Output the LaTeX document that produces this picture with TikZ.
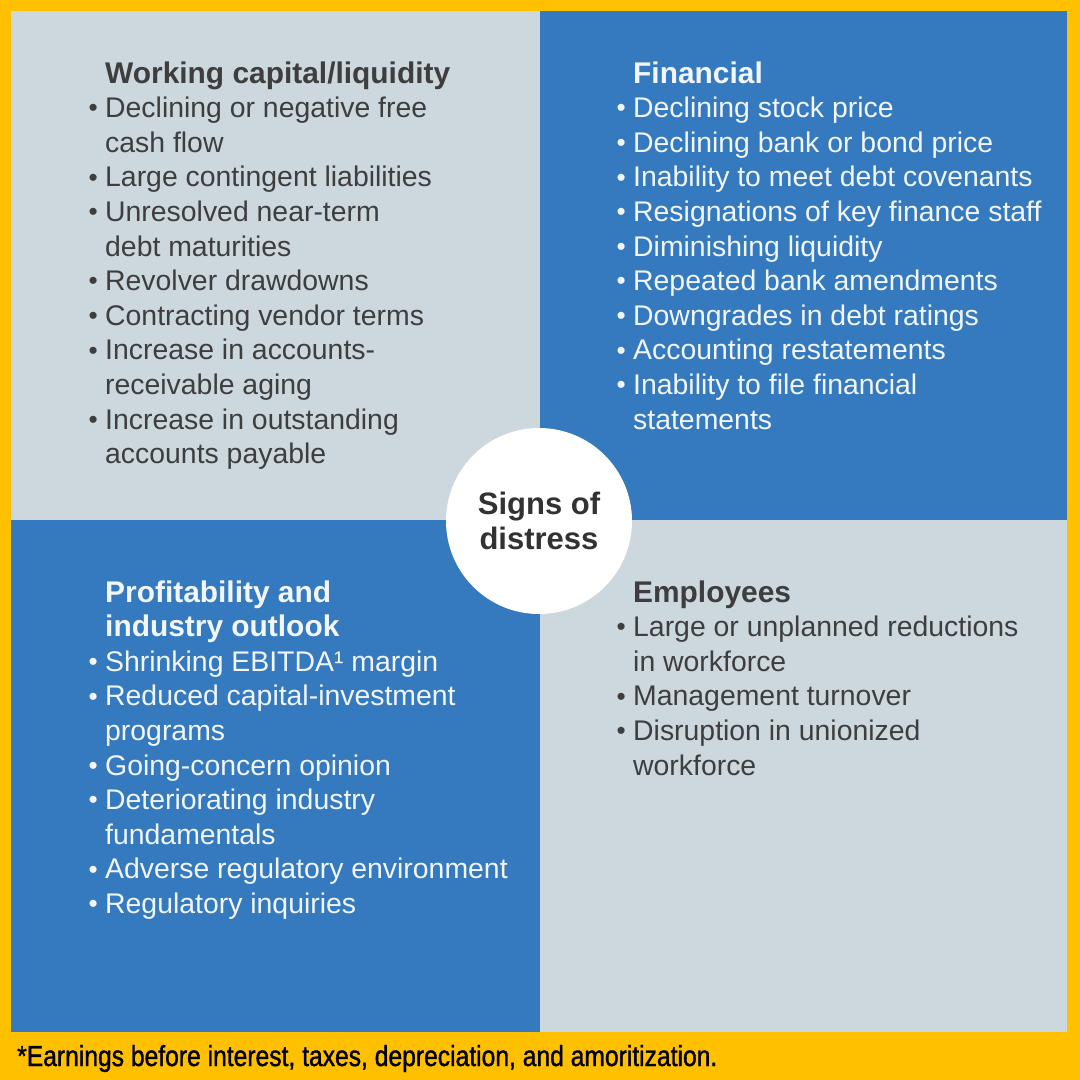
\documentclass[tikz,border=0pt]{standalone}
\usepackage{fontspec}
\setmainfont{Liberation Sans}
\newfontfamily\notefont[FakeStretch=0.85,FakeBold=1.2]{Liberation Sans}
\usepackage{xcolor}
\usetikzlibrary{positioning}

\definecolor{frameyellow}{HTML}{FFC000}
\definecolor{panelgray}{HTML}{CDD7DE}
\definecolor{panelblue}{HTML}{3579BE}
\definecolor{inkdark}{HTML}{3E3E3E}
\definecolor{inklight}{HTML}{F2F6FB}

\newcommand{\bul}{\llap{\raisebox{0.8pt}{\scalebox{0.92}{\textbullet}}\hspace{7.5pt}}}
\newcommand{\head}[1]{{\fontsize{29.9}{34.6}\selectfont\bfseries #1}}

\begin{document}
\begin{tikzpicture}[x=1pt, y=-1pt,
  quad/.style={fill=#1},
  listbox/.style={inner sep=0pt, anchor=base west, text=#1,
                  font=\fontsize{28.4}{34.6}\selectfont},
  hub/.style={circle, fill=white, minimum size=186pt, inner sep=0pt, align=center,
              font=\fontsize{31}{35}\selectfont\bfseries, text=inkdark!80!black},
  note/.style={inner sep=0pt, anchor=base west, font=\notefont\fontsize{29}{29}\selectfont},
]
  \useasboundingbox (0,0) rectangle (1080,1080);
  \fill[frameyellow] (0,0) rectangle (1080,1080);

  \fill[quad=panelgray] (11,11)   rectangle (540,520);
  \fill[quad=panelblue] (540,11)  rectangle (1067,520);
  \fill[quad=panelblue] (11,520)  rectangle (540,1032);
  \fill[quad=panelgray] (540,520) rectangle (1067,1032);

  \node[listbox=inkdark] (liquidity) at (105,83) {\begin{tabular}[t]{@{}l@{}}
    \head{Working capital/liquidity}\\
    \bul Declining or negative free\\
    cash flow\\
    \bul Large contingent liabilities\\
    \bul Unresolved near-term\\
    debt maturities\\
    \bul Revolver drawdowns\\
    \bul Contracting vendor terms\\
    \bul Increase in accounts-\\
    receivable aging\\
    \bul Increase in outstanding\\
    accounts payable
  \end{tabular}};

  \node[listbox=inklight] (financial) at (633,83) {\begin{tabular}[t]{@{}l@{}}
    \head{Financial}\\
    \bul Declining stock price\\
    \bul Declining bank or bond price\\
    \bul Inability to meet debt covenants\\
    \bul Resignations of key finance staff\\
    \bul Diminishing liquidity\\
    \bul Repeated bank amendments\\
    \bul Downgrades in debt ratings\\
    \bul Accounting restatements\\
    \bul Inability to file financial\\
    statements
  \end{tabular}};

  \node[listbox=inklight] (profit) at (105,602) {\begin{tabular}[t]{@{}l@{}}
    \head{Profitability and}\\
    \head{industry outlook}\\
    \bul Shrinking EBITDA¹ margin\\
    \bul Reduced capital-investment\\
    programs\\
    \bul Going-concern opinion\\
    \bul Deteriorating industry\\
    fundamentals\\
    \bul Adverse regulatory environment\\
    \bul Regulatory inquiries
  \end{tabular}};

  \node[listbox=inkdark] (staff) at (633,602) {\begin{tabular}[t]{@{}l@{}}
    \head{Employees}\\
    \bul Large or unplanned reductions\\
    in workforce\\
    \bul Management turnover\\
    \bul Disruption in unionized\\
    workforce
  \end{tabular}};

  \node[hub] (signs) at (539,521) {Signs of\\distress};

  \node[note] (footnote) at (17,1066) {*Earnings before interest, taxes, depreciation, and amoritization.};
\end{tikzpicture}
\end{document}
